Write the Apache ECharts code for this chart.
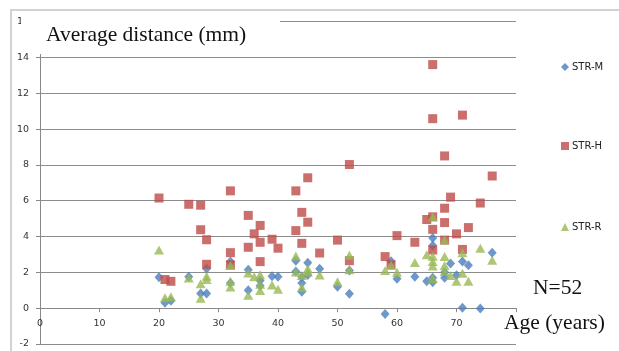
<!DOCTYPE html>
<html>
<head>
<meta charset="utf-8">
<script src="https://cdn.jsdelivr.net/npm/echarts@6/dist/echarts.min.js"></script>
<style>
  html, body { margin: 0; padding: 0; background: #fff; }
  #chart { width: 619px; height: 351px; }
</style>
</head>
<body>
<div id="chart"></div>
<script>
// age (years), average distance (mm)
var strM = [
  [20, 1.72], [21, 0.3], [22, 0.42], [25, 1.75], [27, 0.82], [28, 0.82], [28, 2.2],
  [32, 2.6], [32, 1.4], [35, 2.15], [35, 1.0], [37, 1.55], [37, 1.25], [39, 1.78],
  [40, 1.75], [43, 2.65], [43, 2.05], [44, 1.75], [44, 1.4], [44, 0.92], [45, 2.53],
  [45, 1.85], [47, 2.2], [50, 1.2], [52, 2.1], [52, 0.8], [58, -0.32], [59, 2.62],
  [60, 1.64], [63, 1.75], [65, 1.5], [66, 3.92], [66, 3.5], [66, 1.7], [66, 1.45],
  [68, 1.7], [68, 2.0], [69, 2.5], [70, 1.84], [71, 2.6], [71, 0.02], [72, 2.4],
  [74, -0.02], [76, 3.1]
];
var strH = [
  [20, 6.15], [21, 1.6], [22, 1.5], [25, 5.8], [27, 5.75], [27, 4.38], [28, 3.82],
  [28, 2.45], [32, 6.55], [32, 3.1], [32, 2.42], [35, 5.18], [35, 3.4], [36, 4.15],
  [37, 4.62], [37, 3.68], [37, 2.6], [39, 3.85], [40, 3.35], [43, 6.55], [43, 4.33],
  [44, 5.35], [44, 3.62], [45, 7.28], [45, 4.8], [47, 3.08], [50, 3.8], [52, 8.02],
  [52, 2.65], [58, 2.88], [59, 2.42], [60, 4.05], [63, 3.68], [65, 4.95], [66, 13.6],
  [66, 10.58], [66, 5.1], [66, 4.4], [66, 3.25], [68, 8.5], [68, 5.58], [68, 4.78],
  [68, 3.8], [69, 6.2], [70, 4.15], [71, 10.78], [71, 3.28], [72, 4.5], [74, 5.87],
  [76, 7.38]
];
var strR = [
  [20, 3.25], [21, 0.58], [22, 0.64], [25, 1.68], [27, 1.36], [27, 0.55], [28, 1.78],
  [28, 1.6], [32, 2.38], [32, 1.5], [32, 1.18], [35, 1.97], [35, 0.72], [36, 1.76],
  [37, 1.86], [37, 1.34], [37, 0.98], [39, 1.3], [40, 1.05], [43, 2.92], [43, 2.02],
  [44, 1.82], [44, 1.15], [45, 2.2], [45, 2.02], [47, 1.85], [50, 1.48], [52, 2.95],
  [52, 2.15], [58, 2.1], [59, 2.4], [60, 2.0], [63, 2.55], [65, 2.98], [66, 5.1],
  [66, 2.9], [66, 2.6], [66, 2.35], [66, 1.66], [68, 3.8], [68, 2.88], [68, 2.38],
  [68, 2.05], [69, 1.82], [70, 1.5], [71, 3.1], [71, 1.95], [72, 1.5], [74, 3.35],
  [76, 2.68]
];
var seriesNames = ['STR-M', 'STR-H', 'STR-R'];
var seriesColors = ['#4A7EBB', '#BE4B48', '#98B954'];

var chart = echarts.init(document.getElementById('chart'));
var serif = '"Liberation Serif", "DejaVu Serif", serif';
var sans = '"DejaVu Sans", Verdana, sans-serif';

// the x axis sits on y = 0, two units above the bottom of the plot
var plotHeight = 351 - 21.6 - 7;
var xAxisOffset = -plotHeight * 2 / 18;

function legendItem(i, icon, top) {
  return {
    orient: 'vertical',
    left: 561,
    top: top,
    itemWidth: 8,
    itemHeight: 8,
    itemGap: 0,
    padding: 0,
    data: [{ name: seriesNames[i], icon: icon }],
    textStyle: { fontFamily: sans, fontSize: 10, color: '#222', padding: [0, 0, 0, -2] }
  };
}

var option = {
  animation: false,
  backgroundColor: '#fff',
  color: seriesColors,
  grid: { left: 40, right: 103, top: 21.6, bottom: 7, containLabel: false },
  legend: [
    legendItem(0, 'diamond', 62),
    legendItem(1, 'rect', 141),
    legendItem(2, 'triangle', 222)
  ],
  xAxis: {
    type: 'value',
    min: 0,
    max: 80,
    interval: 10,
    offset: xAxisOffset,
    axisLine: { onZero: false, lineStyle: { color: '#888', width: 1 } },
    axisTick: { show: true, length: 4, lineStyle: { color: '#888' } },
    axisLabel: {
      margin: 10,
      fontFamily: sans,
      fontSize: 9.5,
      color: '#333',
      formatter: function (v) { return v === 80 ? '' : v; }
    },
    splitLine: { show: false }
  },
  yAxis: {
    type: 'value',
    min: -2,
    max: 16,
    interval: 2,
    axisLine: { show: true, lineStyle: { color: '#888', width: 1 } },
    axisTick: { show: true, length: 4, lineStyle: { color: '#888' } },
    axisLabel: { margin: 11, fontFamily: sans, fontSize: 9.5, color: '#333' },
    splitLine: { show: true, lineStyle: { color: '#8c8c8c', width: 1 } }
  },
  series: [
    { name: 'STR-M', type: 'scatter', symbol: 'diamond', symbolSize: [9, 10], data: strM },
    { name: 'STR-H', type: 'scatter', symbol: 'rect', symbolSize: 9, data: strH },
    { name: 'STR-R', type: 'scatter', symbol: 'triangle', symbolSize: [10, 9], data: strR }
  ],
  graphic: [
    {
      type: 'rect', z: 100,
      shape: { x: 21, y: 12, width: 259, height: 39 },
      style: { fill: '#fff' }
    },
    {
      type: 'rect', z: 100,
      shape: { x: 38, y: 50, width: 4, height: 4 },
      style: { fill: '#fff' }
    },
    {
      type: 'text', z: 101, left: 46, top: 24,
      style: { text: 'Average distance (mm)', font: '21.5px ' + serif, fill: '#111' }
    },
    {
      type: 'text', z: 101, left: 533, top: 277,
      style: { text: 'N=52', font: '21.5px ' + serif, fill: '#111' }
    },
    {
      type: 'text', z: 101, left: 504, top: 312,
      style: { text: 'Age (years)', font: '21.5px ' + serif, fill: '#111' }
    },
    {
      type: 'polyline', z: 100,
      shape: { points: [[11, 352], [11, 10], [620, 10]] },
      style: { stroke: '#c4c4c4', lineWidth: 1.5, fill: null }
    }
  ]
};
chart.setOption(option);
</script>
</body>
</html>
